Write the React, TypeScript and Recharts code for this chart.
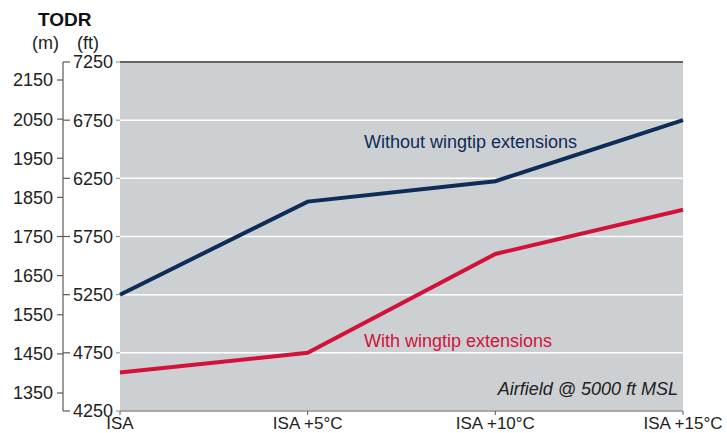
import React from 'react';
import { LineChart, Line, XAxis, YAxis, CartesianGrid, ReferenceLine } from 'recharts';

// values (TODR, ft)
const categories = ['ISA', 'ISA +5°C', 'ISA +10°C', 'ISA +15°C'];
const withoutWingtip = [5250, 6050, 6225, 6750];
const withWingtip = [4580, 4750, 5600, 5980];
const ftTicks = [4250, 4750, 5250, 5750, 6250, 6750, 7250];
const mTicks = [1350, 1450, 1550, 1650, 1750, 1850, 1950, 2050, 2150];

const data = categories.map((c, i) => ({
  cat: c,
  without: withoutWingtip[i],
  with: withWingtip[i],
}));

const FONT = '"Liberation Sans", Arial, Helvetica, sans-serif';
const NAVY = '#0d2c58';
const RED = '#d3123a';
const AXIS = '#5a5a5a';

const FtTick = (props: any) => {
  const { y, payload } = props;
  return (
    <g>
      <line x1={63} x2={70} y1={y} y2={y} stroke={AXIS} strokeWidth={1.2} />
      <text x={73} y={y} dy="0.355em" fontSize={18} fill="#222" textAnchor="start" fontFamily={FONT}>
        {payload.value}
      </text>
      <line x1={116} x2={120} y1={y} y2={y} stroke="#888" strokeWidth={1} />
    </g>
  );
};

const MTick = (props: any) => {
  const { y, payload } = props;
  return (
    <g>
      <line x1={57} x2={63} y1={y} y2={y} stroke={AXIS} strokeWidth={1.2} />
      <text x={53} y={y} dy="0.355em" fontSize={18} fill="#222" textAnchor="end" fontFamily={FONT}>
        {payload.value}
      </text>
    </g>
  );
};

const App = () => {
  return (
    <div style={{ position: 'absolute', left: 0, top: 0, width: 727, height: 433, fontFamily: FONT }}>
      <LineChart width={727} height={433} data={data} margin={{ top: 62, right: 44, bottom: 0, left: 0 }}>
        <CartesianGrid
          yAxisId="ft"
          vertical={false}
          stroke="#ffffff"
          strokeWidth={1.5}
          fill="#cdd0d3"
          fillOpacity={1}
        />
        <XAxis
          dataKey="cat"
          height={22}
          interval={0}
          axisLine={{ stroke: AXIS, strokeWidth: 1.2 }}
          tickLine={{ stroke: AXIS }}
          tickSize={4}
          tickMargin={2}
          tick={{ fontSize: 17, fill: '#222', fontFamily: FONT }}
        />
        <YAxis
          yAxisId="ft"
          width={57}
          domain={[4250, 7250]}
          ticks={ftTicks}
          interval={0}
          axisLine={false}
          tickLine={false}
          tick={<FtTick />}
          allowDataOverflow
        />
        <YAxis
          yAxisId="m"
          width={63}
          domain={[1304, 2196]}
          ticks={mTicks}
          interval={0}
          axisLine={{ stroke: AXIS, strokeWidth: 1.2 }}
          tickLine={false}
          tick={<MTick />}
          allowDataOverflow
        />
        <ReferenceLine yAxisId="ft" y={7250} stroke="#333" strokeWidth={1.5} />
        <Line
          yAxisId="ft"
          dataKey="without"
          stroke={NAVY}
          strokeWidth={4}
          dot={false}
          type="linear"
          isAnimationActive={false}
        />
        <Line
          yAxisId="ft"
          dataKey="with"
          stroke={RED}
          strokeWidth={4}
          dot={false}
          type="linear"
          isAnimationActive={false}
        />
      </LineChart>
      <svg
        width={727}
        height={433}
        style={{ position: 'absolute', left: 0, top: 0, pointerEvents: 'none' }}
        fontFamily={FONT}
      >
        <text x={38} y={26} fontSize={19} fontWeight="bold" fill="#111">TODR</text>
        <text x={32} y={49} fontSize={18} fill="#222">(m)</text>
        <text x={77} y={49} fontSize={18} fill="#222">(ft)</text>
        <text x={364} y={148} fontSize={18} fill={NAVY}>Without wingtip extensions</text>
        <text x={364} y={347} fontSize={18} fill={RED}>With wingtip extensions</text>
        <text x={678} y={395} fontSize={18} fontStyle="italic" fill="#222" textAnchor="end">
          Airfield @ 5000 ft MSL
        </text>
      </svg>
    </div>
  );
};

export default App;
